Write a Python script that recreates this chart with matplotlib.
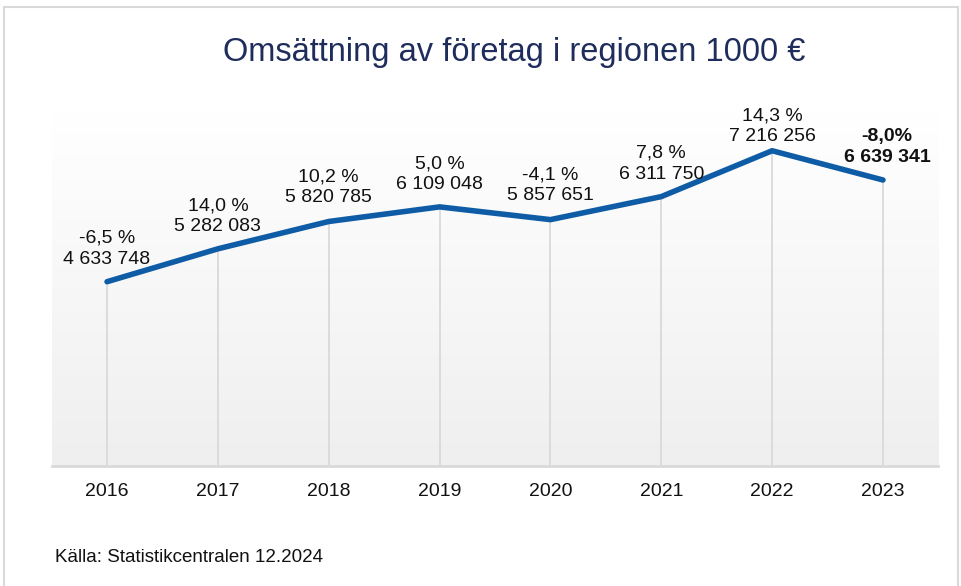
import numpy as np
import matplotlib
matplotlib.use("Agg")
import matplotlib.pyplot as plt
from matplotlib.patches import Rectangle

plt.rcParams["font.family"] = ["Liberation Sans", "DejaVu Sans"]

#   data
years = ["2016", "2017", "2018", "2019", "2020", "2021", "2022", "2023"]
values = [4633748, 5282083, 5820785, 6109048, 5857651, 6311750, 7216256, 6639341]
changes = ["-6,5 %", "14,0 %", "10,2 %", "5,0 %", "-4,1 %", "7,8 %", "14,3 %", "-8,0%"]

# label offset above the point (points), last one is bold
label_offsets = [10, 10, 11, 10, 11, 10, 4, 10]

line_color = "#0F5CA6"
grey = "#D9D9D9"

fig = plt.figure(figsize=(9.61, 5.86), dpi=100)
ax = fig.add_axes([0.0537, 0.2048, 0.9228, 0.6058])

x = np.arange(len(years))
ymin, ymax = 1_000_000, 8_000_000

# gradient background, white at top to light grey at bottom
grad = np.linspace(1.0, 0.0, 256).reshape(-1, 1)
top = np.array([1.0, 1.0, 1.0])
bot = np.array([0xEF, 0xEF, 0xEF]) / 255
img = top * grad[..., None] + bot * (1 - grad[..., None])
ax.imshow(img, extent=(-0.5, len(years) - 0.5, ymin, ymax), aspect="auto",
          origin="upper", zorder=0)

# drop lines from each point down to the axis
ax.vlines(x, ymin, values, color=grey, lw=1.3, zorder=1)
ax.plot(x, values, color=line_color, lw=4, solid_capstyle="round",
        solid_joinstyle="round", zorder=3)

for i, (v, c) in enumerate(zip(values, changes)):
    txt = c + "\n" + f"{v:,}".replace(",", " ")
    bold = i == len(values) - 1
    ax.annotate(txt, (x[i], v), xytext=(3 if bold else 0, label_offsets[i]),
                textcoords="offset points", ha="center", va="bottom",
                fontsize=14, linespacing=1.3, color="#111111",
                fontweight="bold" if bold else "normal", zorder=4)

ax.set_xlim(-0.5, len(years) - 0.5)
ax.set_ylim(ymin, ymax)
ax.set_xticks(x)
ax.set_xticklabels(years, fontsize=14, color="#111111")
ax.tick_params(axis="x", length=0, pad=12)
ax.set_yticks([])
for s in ["top", "right", "left"]:
    ax.spines[s].set_visible(False)
ax.spines["bottom"].set_color(grey)
ax.spines["bottom"].set_linewidth(2)

fig.text(0.535, 0.911, "Omsättning av företag i regionen 1000 €",
         ha="center", va="center", fontsize=23.5, color="#1F2D5C")
fig.text(0.057, 0.048, "Källa: Statistikcentralen 12.2024",
         ha="left", va="center", fontsize=13.5, color="#111111")

# thin frame around the whole chart
fig.patches.append(Rectangle((4 / 961, -0.02), 954 / 961, 1.02 - 7 / 586,
                             transform=fig.transFigure, fill=False,
                             edgecolor=grey, lw=1.5))

fig.savefig("out.png", dpi=100)
